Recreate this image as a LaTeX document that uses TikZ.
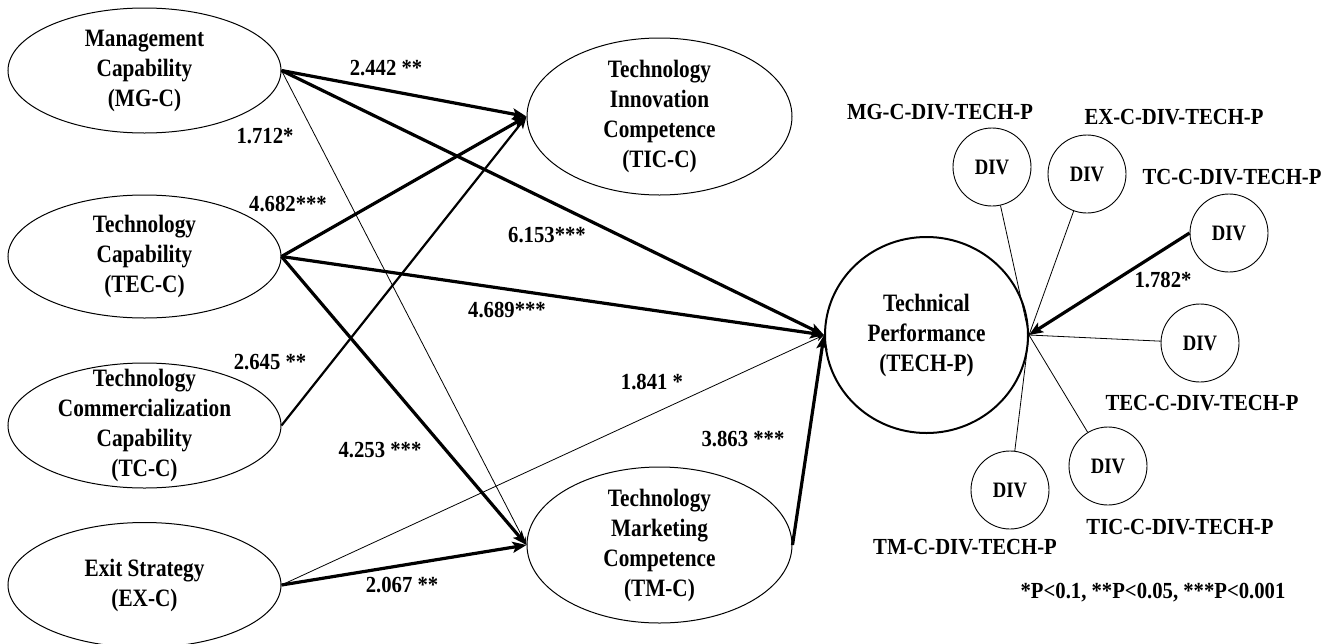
\documentclass[tikz,border=0pt]{standalone}
\usepackage{fontspec}
\setmainfont{Liberation Serif}
\newfontfamily\condfont[FakeStretch=0.85]{Liberation Serif}
\newfontfamily\semifont[FakeStretch=0.9]{Liberation Serif}
\usetikzlibrary{shapes.geometric,arrows.meta}
\begin{document}
\begin{tikzpicture}[x=1pt,y=-1pt,
  lat/.style={ellipse, draw, line width=1pt, inner sep=0pt},
  ltxt/.style={align=center, inner sep=0pt, font=\condfont\bfseries\fontsize{25}{30}\selectfont},
  divc/.style={circle, draw, line width=0.9pt, minimum size=78pt, inner sep=0pt, font=\condfont\bfseries\fontsize{22}{26}\selectfont},
  lbl/.style={font=\semifont\bfseries\fontsize{23}{27}\selectfont, inner sep=1pt},
  heavy/.style={line width=3.2pt, -{Stealth[length=14pt,width=11pt,inset=3pt]}},
  medium/.style={line width=2.2pt, -{Stealth[length=12pt,width=10pt,inset=3pt]}},
  light/.style={line width=0.8pt, -{Stealth[length=8pt,width=6pt]}},
  spoke/.style={line width=0.8pt},
]
\useasboundingbox (0,0) rectangle (1331,643);
% latent variables (left)
\node[lat, minimum width=273pt, minimum height=125pt] (mg) at (144.5,70.5) {};
\node[ltxt] at (mg) {Management\\Capability\\(MG-C)};
\node[lat, minimum width=273pt, minimum height=123pt] (tec) at (144.5,256.5) {};
\node[ltxt] at (tec) {Technology\\Capability\\(TEC-C)};
\node[lat, minimum width=273pt, minimum height=125pt] (tc) at (144.5,425.5) {};
\node[ltxt] at (tc) {Technology\\Commercialization\\Capability\\(TC-C)};
\node[lat, minimum width=273pt, minimum height=125pt] (ex) at (144.5,585) {};
\node[ltxt] at (ex) {Exit Strategy\\(EX-C)};
% mediators
\node[lat, minimum width=265pt, minimum height=157pt] (tic) at (659.5,116.5) {};
\node[ltxt] at (tic) {Technology\\Innovation\\Competence\\(TIC-C)};
\node[lat, minimum width=265pt, minimum height=156pt] (tm) at (659.5,545) {};
\node[ltxt] at (tm) {Technology\\Marketing\\Competence\\(TM-C)};
% outcome
\node[lat, line width=2pt, minimum width=203pt, minimum height=196pt] (tech) at (926.5,335) {};
\node[ltxt] at (tech) {Technical\\Performance\\(TECH-P)};
% DIV circles
\node[divc] (d1) at (992,167) {DIV};
\node[divc] (d2) at (1087,174) {DIV};
\node[divc] (d3) at (1229,233) {DIV};
\node[divc] (d4) at (1200,343) {DIV};
\node[divc] (d5) at (1108,466) {DIV};
\node[divc] (d6) at (1010,490) {DIV};
% DIV labels
\node[lbl] (l1) at (940,112) {MG-C-DIV-TECH-P};
\node[lbl] (l2) at (1174,117) {EX-C-DIV-TECH-P};
\node[lbl] (l3) at (1232,177) {TC-C-DIV-TECH-P};
\node[lbl] (l4) at (1202,403) {TEC-C-DIV-TECH-P};
\node[lbl] (l5) at (1180,527) {TIC-C-DIV-TECH-P};
\node[lbl] (l6) at (965,547) {TM-C-DIV-TECH-P};
\node[lbl] (leg) at (1153,593) {*P<0.1, **P<0.05, ***P<0.001};
% paths
\draw[heavy] (mg.east) -- (tic.west);
\draw[heavy] (mg.east) -- (tech.west);
\draw[light] (mg.east) -- (tm.west);
\draw[heavy] (tec.east) -- (tic.west);
\draw[heavy] (tec.east) -- (tech.west);
\draw[heavy] (tec.east) -- (tm.west);
\draw[medium] (tc.east) -- (tic.west);
\draw[light] (ex.east) -- (tech.west);
\draw[heavy] (ex.east) -- (tm.west);
\draw[heavy] (tm.east) -- (tech.west);
% DIV spokes
\draw[spoke] (d1) -- (tech.east);
\draw[spoke] (d2) -- (tech.east);
\draw[spoke] (d4) -- (tech.east);
\draw[spoke] (d5) -- (tech.east);
\draw[spoke] (d6) -- (tech.east);
\draw[heavy] (d3.west) -- (tech.east);
% path labels
\node[lbl] at (386,68) {2.442 **};
\node[lbl] at (265,136) {1.712*};
\node[lbl] at (288,204) {4.682***};
\node[lbl] at (270,362) {2.645 **};
\node[lbl] at (380,450) {4.253 ***};
\node[lbl] at (402,585) {2.067 **};
\node[lbl] at (547,235) {6.153***};
\node[lbl] at (507,310) {4.689***};
\node[lbl] at (652,382) {1.841 *};
\node[lbl] at (743,439) {3.863 ***};
\node[lbl] at (1163,280) {1.782*};
\end{tikzpicture}
\end{document}
